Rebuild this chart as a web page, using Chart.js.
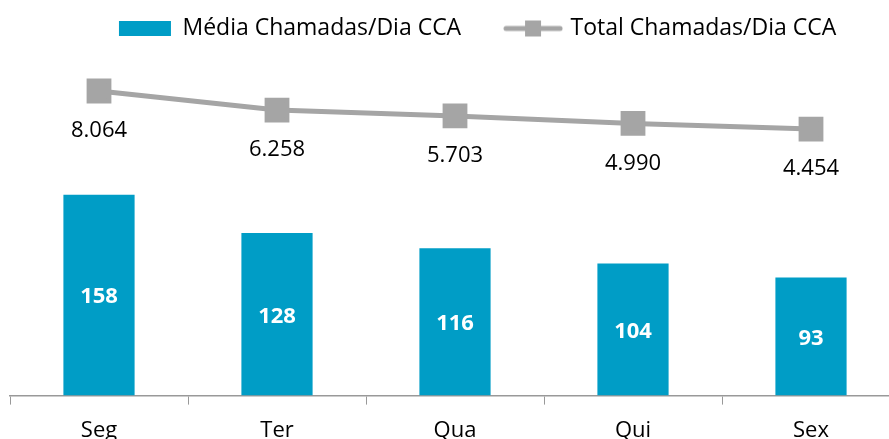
<!DOCTYPE html>
<html>
<head>
<meta charset="utf-8">
<script src="https://cdn.jsdelivr.net/npm/chart.js@4/dist/chart.umd.min.js"></script>
<style>
  html, body { margin: 0; padding: 0; background: #fff; overflow: hidden; }
  #wrap { width: 889px; height: 439px; overflow: hidden; position: relative; }
  #chart { position: absolute; left: -9px; top: 0; }
</style>
</head>
<body>
<div id="wrap"><canvas id="chart" width="959" height="457"></canvas></div>
<script>
const days = ["Seg", "Ter", "Qua", "Qui", "Sex"];
const mediaChamadas = [158, 128, 116, 104, 93];
const totalChamadas = [8064, 6258, 5703, 4990, 4454];
const barName = "Média Chamadas/Dia CCA";
const lineName = "Total Chamadas/Dia CCA";

const FONT = "'Open Sans', 'Noto Sans', sans-serif";
const BLUE = "#009DC6";
const GRAY = "#A5A5A5";

function fmt(n) {
  return String(n).replace(/\B(?=(\d{3})+(?!\d))/g, ".");
}

// little line+square sample for the legend
const lineIcon = document.createElement("canvas");
lineIcon.width = 60; lineIcon.height = 18;
(function () {
  const c = lineIcon.getContext("2d");
  c.strokeStyle = GRAY; c.lineWidth = 5; c.lineCap = "round";
  c.beginPath(); c.moveTo(3, 9); c.lineTo(57, 9); c.stroke();
  c.fillStyle = GRAY; c.fillRect(22, 1, 16, 16);
})();

const labelPlugin = {
  id: "labels",
  afterDatasetsDraw(ch) {
    const ctx = ch.ctx;
    ctx.save();
    ctx.textAlign = "center";
    ctx.textBaseline = "middle";
    const bars = ch.getDatasetMeta(0).data;
    ctx.font = "bold 22px " + FONT;
    ctx.fillStyle = "#fff";
    bars.forEach((b, i) => {
      ctx.fillText(String(mediaChamadas[i]), b.x, (b.y + b.base) / 2 + 2);
    });
    const pts = ch.getDatasetMeta(1).data;
    ctx.font = "22px " + FONT;
    ctx.fillStyle = "#000";
    pts.forEach((p, i) => {
      ctx.fillText(fmt(totalChamadas[i]), p.x, p.y + 40);
    });
    ctx.restore();
  }
};

chart = new Chart(document.getElementById("chart"), {
  data: {
    labels: days,
    datasets: [
      {
        type: "bar",
        label: barName,
        data: mediaChamadas,
        backgroundColor: BLUE,
        borderWidth: 0,
        barPercentage: 0.4,
        categoryPercentage: 1,
        yAxisID: "y",
        order: 2
      },
      {
        type: "line",
        label: lineName,
        data: totalChamadas,
        borderColor: GRAY,
        backgroundColor: GRAY,
        borderWidth: 5,
        pointStyle: "rect",
        pointRadius: 14,
        pointHoverRadius: 14,
        tension: 0,
        yAxisID: "y1",
        order: 1
      }
    ]
  },
  options: {
    responsive: false,
    animation: false,
    layout: { padding: { left: 0, right: 50, top: 7, bottom: 0 } },
    plugins: {
      tooltip: { enabled: false },
      legend: {
        align: "end",
        labels: {
          usePointStyle: true,
          pointStyleWidth: 52,
          boxHeight: 15,
          padding: 10,
          color: "#000",
          font: { family: FONT, size: 23 },
          generateLabels(ch) {
            const items = Chart.defaults.plugins.legend.labels.generateLabels(ch);
            items.sort((a, b) => a.datasetIndex - b.datasetIndex);
            items.forEach(it => {
              if (it.datasetIndex === 0) {
                it.pointStyle = "rect";
                it.lineWidth = 0;
                it.text = barName + "      ";
              } else {
                it.pointStyle = lineIcon;
                it.text = lineName + "         ";
              }
            });
            return items;
          }
        }
      }
    },
    scales: {
      x: {
        offset: true,
        grid: {
          display: true,
          offset: true,
          drawOnChartArea: false,
          drawTicks: true,
          tickLength: 9,
          color: "#999"
        },
        border: { display: true, color: "#999", width: 1.5 },
        ticks: {
          color: "#000",
          padding: 13,
          font: { family: FONT, size: 22 }
        }
      },
      y: {
        display: false,
        min: 0,
        max: 272
      },
      y1: {
        display: false,
        min: -20810,
        max: 11950
      }
    }
  },
  plugins: [labelPlugin]
});
</script>
</body>
</html>
